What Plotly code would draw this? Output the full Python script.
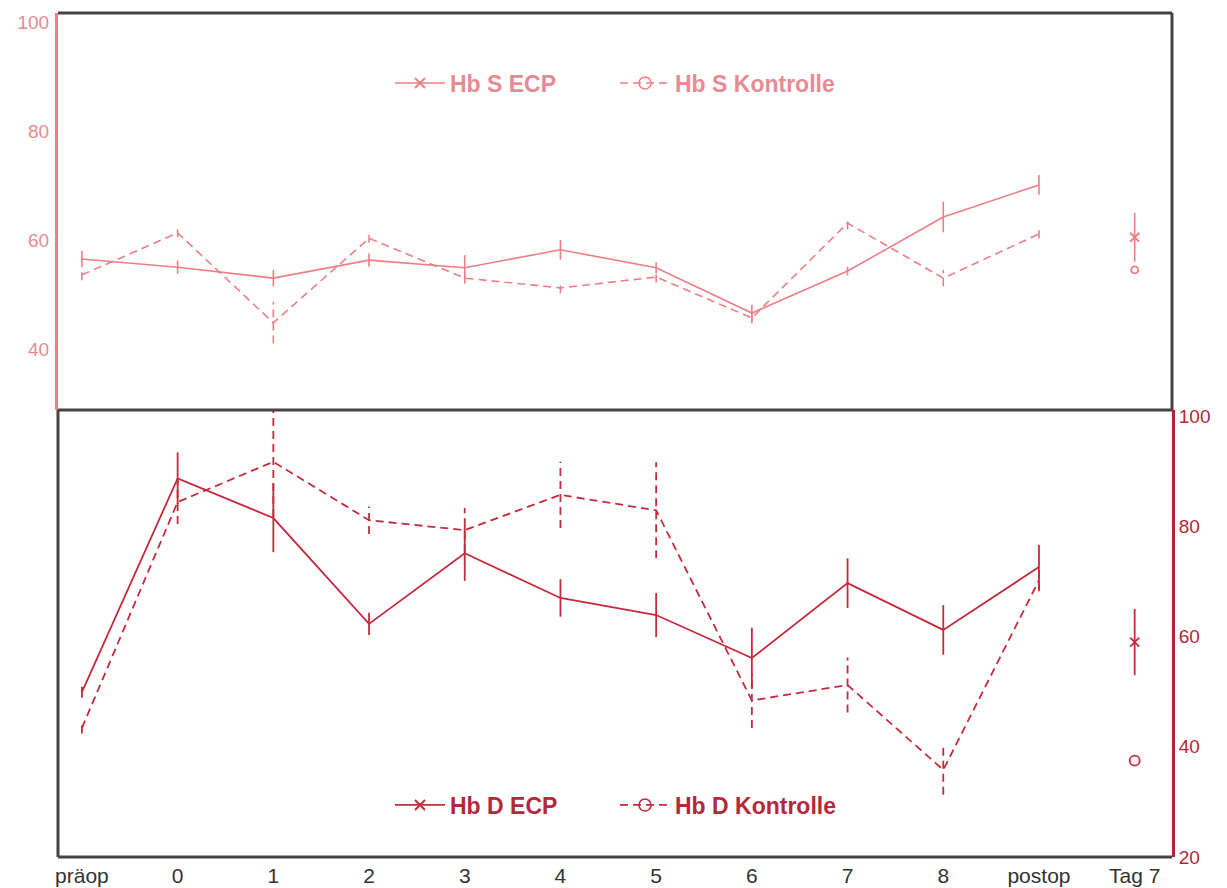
import plotly.graph_objects as go

# ---------------- data ----------------
categories = ["präop", "0", "1", "2", "3", "4", "5", "6", "7", "8", "postop", "Tag 7"]
main_idx = list(range(11))          # präop .. postop (connected)
tag7_idx = 11                       # Tag 7 (separate point)

hbs_ecp = [56.5, 55.0, 53.0, 56.3, 54.9, 58.2, 54.9, 46.6, 54.3, 64.2, 70.1]
hbs_ecp_err = [1.5, 1.2, 1.5, 1.2, 2.3, 1.8, 1.0, 1.5, 0.8, 2.8, 1.8]
hbs_kon = [53.6, 61.3, 44.8, 60.3, 53.0, 51.2, 53.2, 45.7, 63.1, 53.0, 61.1]
hbs_kon_err = [1.0, 0.8, 3.8, 0.8, 1.0, 1.0, 1.0, 1.0, 1.2, 1.5, 0.8]
hbs_ecp_tag7 = 60.5
hbs_ecp_tag7_err = 4.5
hbs_kon_tag7 = 54.5

hbd_ecp = [49.9, 88.7, 81.5, 62.3, 75.1, 67.0, 63.9, 56.1, 69.7, 61.2, 72.6]
hbd_ecp_err = [1.0, 4.7, 6.2, 2.0, 5.0, 3.4, 4.0, 5.5, 4.5, 4.5, 4.0]
hbd_kon = [43.4, 84.4, 91.7, 81.1, 79.3, 85.7, 82.9, 48.4, 51.2, 35.8, 70.2]
hbd_kon_err = [1.0, 4.0, 10.0, 2.5, 4.0, 6.0, 8.7, 5.0, 5.0, 4.5, 2.0]
hbd_ecp_tag7 = 59.0
hbd_ecp_tag7_err = 6.0
hbd_kon_tag7 = 37.5

# ---------------- styles ----------------
PINK = "#EE7E86"
PINK_TXT = "#E98A92"
RED = "#C42B3C"
RED_TXT = "#B3283A"
FRAME = "#444444"
DASH = "8px,5px"
split = (857 - 410) / 844.0


def dashed_err(xs, ys, es):
    ex, ey = [], []
    for x, y, e in zip(xs, ys, es):
        ex += [x, x, None]
        ey += [y - e, y + e, None]
    return ex, ey


fig = go.Figure()


def panel(ecp, ecp_err, kon, kon_err, ecp_t7, ecp_t7_err, kon_t7, color, width,
          xa, ya, legend, name_ecp, name_kon, circ_t7):
    # legend entries (no data points)
    fig.add_trace(go.Scatter(
        x=[None], y=[None], mode="lines+markers", name=name_ecp,
        line=dict(color=color, width=width),
        marker=dict(symbol="x-thin", size=10, line=dict(color=color, width=2)),
        xaxis=xa, yaxis=ya, legend=legend))
    fig.add_trace(go.Scatter(
        x=[None], y=[None], mode="lines+markers", name=name_kon,
        line=dict(color=color, width=width, dash=DASH),
        marker=dict(symbol="circle-open", size=12, color=color, line=dict(width=1.6)),
        xaxis=xa, yaxis=ya, legend=legend))
    # ECP solid line with error bars
    fig.add_trace(go.Scatter(
        x=main_idx, y=ecp, mode="lines", showlegend=False,
        line=dict(color=color, width=width),
        error_y=dict(type="data", array=ecp_err, width=0, thickness=width, color=color),
        xaxis=xa, yaxis=ya))
    # Kontrolle dashed error bars + dashed line
    ex, ey = dashed_err(main_idx, kon, kon_err)
    fig.add_trace(go.Scatter(x=ex, y=ey, mode="lines", showlegend=False, hoverinfo="skip",
                             line=dict(color=color, width=width, dash=DASH),
                             xaxis=xa, yaxis=ya))
    fig.add_trace(go.Scatter(
        x=main_idx, y=kon, mode="lines", showlegend=False,
        line=dict(color=color, width=width, dash=DASH),
        xaxis=xa, yaxis=ya))
    # Tag 7
    fig.add_trace(go.Scatter(
        x=[tag7_idx], y=[ecp_t7], mode="markers", showlegend=False,
        marker=dict(symbol="x-thin", size=9, line=dict(color=color, width=1.8)),
        error_y=dict(type="data", array=[ecp_t7_err], width=0, thickness=width, color=color),
        xaxis=xa, yaxis=ya))
    fig.add_trace(go.Scatter(
        x=[tag7_idx], y=[kon_t7], mode="markers", showlegend=False,
        marker=dict(symbol="circle-open", size=circ_t7, color=color, line=dict(width=1.8)),
        xaxis=xa, yaxis=ya))


panel(hbs_ecp, hbs_ecp_err, hbs_kon, hbs_kon_err, hbs_ecp_tag7, hbs_ecp_tag7_err,
      hbs_kon_tag7, PINK, 1.6, "x2", "y2", "legend", "Hb S ECP", "Hb S Kontrolle", 7)
panel(hbd_ecp, hbd_ecp_err, hbd_kon, hbd_kon_err, hbd_ecp_tag7, hbd_ecp_tag7_err,
      hbd_kon_tag7, RED, 1.8, "x", "y", "legend2", "Hb D ECP", "Hb D Kontrolle", 10)

xr = [-0.25, 11.39]
tick_font = dict(family="Liberation Sans Narrow, Liberation Sans, Arial", size=21, color="#333333")

legend_common = dict(orientation="h", x=0.5, xanchor="center", yanchor="middle",
                     bgcolor="rgba(0,0,0,0)", entrywidth=160, entrywidthmode="pixels",
                     itemwidth=50)

fig.update_layout(
    width=1227, height=888,
    margin=dict(l=58, r=55, t=13, b=31, autoexpand=False),
    paper_bgcolor="white", plot_bgcolor="white",
    font=dict(family="Liberation Sans, Arial"),
    xaxis=dict(domain=[0, 1], anchor="y", range=xr, tickmode="array",
               tickvals=list(range(len(categories))), ticktext=categories,
               showgrid=False, zeroline=False, showline=False, ticks="",
               ticklabelstandoff=4, tickfont=tick_font, automargin=False),
    xaxis2=dict(domain=[0, 1], anchor="y2", range=xr, showticklabels=False,
                showgrid=False, zeroline=False, showline=False, ticks="", automargin=False),
    yaxis=dict(domain=[0, split], anchor="x", side="right", range=[20, 101.1],
               tickvals=[20, 40, 60, 80, 100], showgrid=False, zeroline=False,
               showline=True, linecolor="#B22234", linewidth=3, ticks="", automargin=False,
               tickfont=dict(size=19, color=RED_TXT, family="Liberation Sans, Arial")),
    yaxis2=dict(domain=[split, 1], anchor="x2", side="left", range=[28.8, 101.65],
                tickvals=[40, 60, 80, 100], showgrid=False, zeroline=False,
                showline=True, linecolor=PINK, linewidth=3, ticks="", automargin=False,
                ticklabelstandoff=2,
                tickfont=dict(size=19, color=PINK_TXT, family="Liberation Sans, Arial")),
    legend=dict(y=(857 - 83) / 844.0,
                font=dict(size=23, color=PINK_TXT, family="Liberation Sans, Arial", weight="bold"),
                **legend_common),
    legend2=dict(y=(857 - 805) / 844.0,
                 font=dict(size=23, color=RED_TXT, family="Liberation Sans, Arial", weight="bold"),
                 **legend_common),
    showlegend=True,
    shapes=[
        dict(type="line", xref="paper", yref="paper", x0=0, x1=1, y0=1, y1=1,
             line=dict(color=FRAME, width=3)),
        dict(type="line", xref="paper", yref="paper", x0=1, x1=1, y0=split, y1=1,
             line=dict(color=FRAME, width=3)),
        dict(type="line", xref="paper", yref="paper", x0=0, x1=1, y0=split, y1=split,
             line=dict(color=FRAME, width=3)),
        dict(type="line", xref="paper", yref="paper", x0=0, x1=0, y0=0, y1=split,
             line=dict(color=FRAME, width=3)),
        dict(type="line", xref="paper", yref="paper", x0=0, x1=1, y0=0, y1=0,
             line=dict(color=FRAME, width=3)),
    ],
)

fig.write_html("out.html")
